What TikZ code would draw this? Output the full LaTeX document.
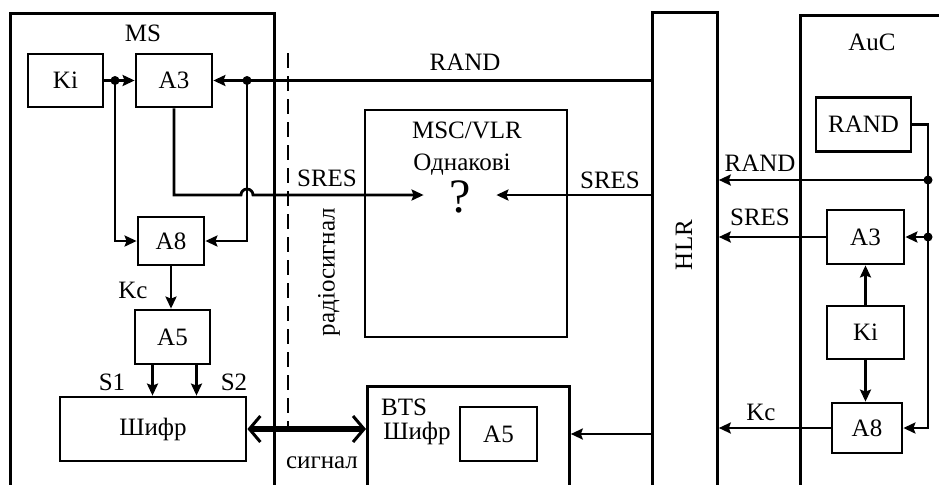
\documentclass[tikz,border=0pt]{standalone}
\usepackage{fontspec}
\setmainfont{Liberation Serif}
\usetikzlibrary{arrows.meta}

\begin{document}
\begin{tikzpicture}[x=0.5pt, y=-0.5pt, line width=1.4pt,
    font=\fontsize{12.5}{14}\selectfont,
    blk/.style={draw, inner sep=0pt},
    arr/.style={-{Stealth[length=6pt,width=5.5pt,inset=1pt]}},
    jdot/.style={circle, fill, inner sep=0pt, minimum size=4.5pt}]
    \useasboundingbox (0,0) rectangle (939,484);
    \clip (0,0) rectangle (939,484);

    % MS
    \node[blk, minimum width=132pt, minimum height=250pt, anchor=north west] (ms) at (9,12) {};
    \node at (143,33) {MS};
    \node[blk, minimum width=37.5pt, minimum height=26.5pt] (msKi) at (65.5,80.5) {Ki};
    \node[blk, minimum width=38pt, minimum height=26.5pt] (msA3) at (174,80.5) {A3};
    \node[blk, minimum width=33pt, minimum height=24pt] (msA8) at (171,241) {A8};
    \node[blk, minimum width=37.5pt, minimum height=27pt] (msA5) at (172.5,337) {A5};
    \node[blk, minimum width=93pt, minimum height=32pt] (msCipher) at (153,429) {Шифр};

    % MSC/VLR
    \node[blk, minimum width=101pt, minimum height=113.5pt] (msc) at (466,223.5) {};
    \node at (467,130) {MSC/VLR};
    \node at (462,165) {Однакові};
    \node[font=\fontsize{24}{26}\selectfont, minimum width=35pt] (qmark) at (460,197) {?};

    % BTS
    \node[blk, minimum width=101pt, minimum height=60pt, anchor=north west] (bts) at (366,385) {};
    \node at (404,407) {BTS};
    \node at (417,433) {Шифр};
    \node[blk, minimum width=38.5pt, minimum height=27pt] (btsA5) at (498.5,434) {A5};

    % HLR
    \node[blk, minimum width=32.5pt, minimum height=250pt, anchor=north west] (hlr) at (651,11) {};
    \node[rotate=90] at (684,245) {HLR};

    % AuC
    \node[blk, minimum width=100pt, minimum height=250pt, anchor=north west] (auc) at (799,14) {};
    \node at (872,42) {AuC};
    \node[blk, minimum width=47.5pt, minimum height=27pt] (aucRand) at (863.5,124.5) {RAND};
    \node[blk, minimum width=38.5pt, minimum height=27pt] (aucA3) at (865.5,237) {A3};
    \node[blk, minimum width=38.5pt, minimum height=26.5pt] (aucKi) at (865.5,332.5) {Ki};
    \node[blk, minimum width=35pt, minimum height=25pt] (aucA8) at (867,428) {A8};

    % MS links
    \coordinate (kdot) at (115,80.5);
    \coordinate (rdot) at (247,80.5);
    \coordinate (jump) at (241,195);
    \draw[arr] (msKi) -- (msA3);
    \draw[arr] (kdot) |- (msA8.west);
    \draw[arr] (hlr.west |- msA3.east) -- (msA3.east);
    \draw[arr] (rdot) |- (msA8.east);
    \draw[arr] (msA3.south) |- (jump) arc(180:360:6) -- (qmark.west |- jump);
    \draw[arr] (msA8.south) -- (msA8.south |- msA5.north);
    \draw[arr] ([xshift=-10pt]msA5.south) -- ([xshift=-10pt]msA5.south |- msCipher.north);
    \draw[arr] ([xshift=12pt]msA5.south) -- ([xshift=12pt]msA5.south |- msCipher.north);
    \node[jdot] at (kdot) {};
    \node[jdot] at (rdot) {};
    \node at (465,62) {RAND};
    \node at (327,178) {SRES};
    \node at (133,290) {Kc};
    \node at (112,382) {S1};
    \node at (234,382) {S2};

    % radio link
    \draw[dash pattern=on 7.5pt off 4pt] (288,53) -- (288,432);
    \node[rotate=90] at (329,272) {радіосигнал};
    \node at (322,463) {сигнал};
    \draw[line width=2.8pt, {Straight Barb[length=5.5pt,width=13pt,line width=1.5pt]}-{Straight Barb[length=5.5pt,width=13pt,line width=1.5pt]}] (msCipher.east) -- (bts.west |- msCipher.east);

    % HLR links
    \draw[arr] (hlr.west |- jump) -- (qmark.east |- jump);
    \draw[arr] (hlr.west |- btsA5) -- (bts.east |- btsA5);
    \node at (610,180) {SRES};

    % AuC links
    \coordinate (adot) at (928,180);
    \coordinate (bdot) at (928,237);
    \draw (aucRand.east) -| (bdot);
    \draw[arr] (adot) -- (hlr.east |- adot);
    \draw[arr] (bdot) -- (aucA3.east);
    \draw[arr] (bdot) |- (aucA8.east);
    \draw[arr] (aucA3.west) -- (hlr.east |- aucA3.west);
    \draw[arr] (aucKi.north) -- (aucKi.north |- aucA3.south);
    \draw[arr] (aucKi.south) -- (aucKi.south |- aucA8.north);
    \draw[arr] (aucA8.west) -- (hlr.east |- aucA8.west);
    \node[jdot] at (adot) {};
    \node[jdot] at (bdot) {};
    \node at (760,163) {RAND};
    \node at (760,217) {SRES};
    \node at (761,412) {Kc};
\end{tikzpicture}
\end{document}
